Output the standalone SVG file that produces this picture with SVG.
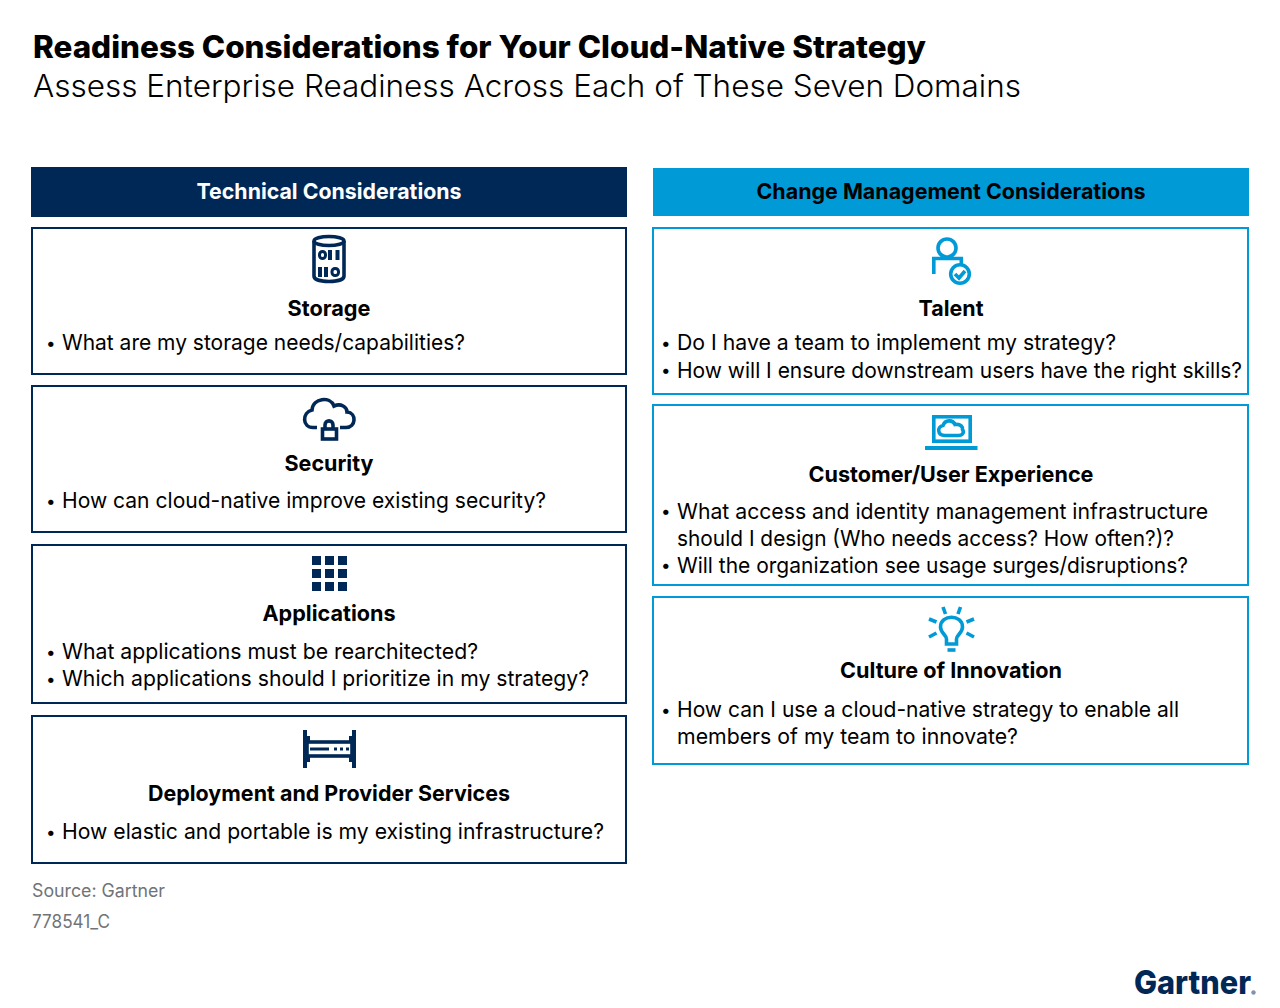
<svg xmlns="http://www.w3.org/2000/svg" width="1280" height="1008" viewBox="0 0 1280 1008">
<style>
text{font-family:"Inter","Liberation Sans",sans-serif;fill:#000}
.b{font-weight:700;font-size:22px;text-anchor:middle}
.t{font-size:22px;font-weight:400}
.d{font-size:17px;font-weight:400}
.nbox{fill:#fff;stroke:#002856;stroke-width:2}
.cbox{fill:#fff;stroke:#009ad7;stroke-width:2}
.ni{fill:none;stroke:#002856;stroke-width:3.6}
.ci{fill:none;stroke:#009ad7;stroke-width:3.6}
.nf{fill:#002856}
.cf{fill:#009ad7}
.g{font-size:18px;fill:#6f7478}
</style>
<rect width="1280" height="1008" fill="#fff"/>
<g id="title">
<text x="33" y="58" font-size="31" font-weight="800" textLength="893" lengthAdjust="spacingAndGlyphs">Readiness Considerations for Your Cloud-Native Strategy</text>
<text x="33" y="97" font-size="31" font-weight="300" textLength="988" lengthAdjust="spacingAndGlyphs">Assess Enterprise Readiness Across Each of These Seven Domains</text>
</g>
<g id="header-technical">
<rect x="31" y="167" width="596" height="50" fill="#002856"/>
<text x="329" y="199" class="b" style="fill:#fff" textLength="265" lengthAdjust="spacingAndGlyphs">Technical Considerations</text>
</g>
<g id="header-change">
<rect x="653" y="168" width="596" height="48" fill="#009ad7"/>
<text x="951" y="199" class="b" textLength="389" lengthAdjust="spacingAndGlyphs">Change Management Considerations</text>
</g>
<g id="storage">
<rect class="nbox" x="32" y="228" width="594" height="146"/>
<path class="ni" d="M314 241v35c0 3.500 6 5.500 15 5.500s15-2 15-5.500v-35"/>
<ellipse class="ni" cx="329" cy="241" rx="15" ry="4.500"/>
<path class="nf" d="M328 250h4v10h-4zM335.500 250h4v10h-4zM318 267h4v10h-4zM324 267h4v10h-4z"/>
<rect x="319.500" y="251.500" width="6" height="7" rx="3" fill="none" stroke="#002856" stroke-width="3"/>
<rect x="332" y="268.500" width="6.500" height="7" rx="3" fill="none" stroke="#002856" stroke-width="3"/>
<text x="329" y="316" class="b" textLength="83" lengthAdjust="spacingAndGlyphs">Storage</text>
<text x="46" y="349" class="d">•</text>
<text x="62" y="350" class="t" textLength="403" lengthAdjust="spacingAndGlyphs">What are my storage needs/capabilities?</text>
</g>
<g id="security">
<rect class="nbox" x="32" y="386" width="594" height="146"/>
<path class="ni" d="M317 427.500h-4c-11 0-11-15-1-17.500 1-12 18-14 22-4 7-3 13 1 13 6 10 1 9 15.500-1 15.500h-6"/>
<path class="ni" stroke-width="3" d="M325 429v-4c0-5.500 8-5.500 8 0v4"/>
<rect class="ni" x="322.500" y="429" width="14" height="10" stroke-width="3.200"/>
<text x="329" y="471" class="b" textLength="89" lengthAdjust="spacingAndGlyphs">Security</text>
<text x="46" y="507" class="d">•</text>
<text x="62" y="508" class="t" textLength="484" lengthAdjust="spacingAndGlyphs">How can cloud-native improve existing security?</text>
</g>
<g id="applications">
<rect class="nbox" x="32" y="545" width="594" height="158"/>
<path class="nf" d="M312 556h9v9h-9zM325 556h9v9h-9zM338 556h9v9h-9zM312 569h9v9h-9zM325 569h9v9h-9zM338 569h9v9h-9zM312 582h9v9h-9zM325 582h9v9h-9zM338 582h9v9h-9z"/>
<text x="329" y="621" class="b" textLength="133" lengthAdjust="spacingAndGlyphs">Applications</text>
<text x="46" y="658" class="d">•</text>
<text x="62" y="659" class="t" textLength="416" lengthAdjust="spacingAndGlyphs">What applications must be rearchitected?</text>
<text x="46" y="685" class="d">•</text>
<text x="62" y="686" class="t" textLength="527" lengthAdjust="spacingAndGlyphs">Which applications should I prioritize in my strategy?</text>
</g>
<g id="deployment">
<rect class="nbox" x="32" y="716" width="594" height="147"/>
<path class="nf" d="M303 730h4v38h-4zM352 730h4v38h-4zM307 736h3v5h-3zM349 736h3v5h-3zM307 757h3v5h-3zM349 757h3v5h-3z"/>
<rect class="ni" x="307" y="742" width="45" height="14" stroke-width="3"/>
<path class="nf" d="M310 747.500h19v3h-19zM334 747.500h3v3h-3zM340 747.500h3v3h-3zM346 747.500h3v3h-3z"/>
<text x="329" y="801" class="b" textLength="362" lengthAdjust="spacingAndGlyphs">Deployment and Provider Services</text>
<text x="46" y="838" class="d">•</text>
<text x="62" y="839" class="t" textLength="542" lengthAdjust="spacingAndGlyphs">How elastic and portable is my existing infrastructure?</text>
</g>
<g id="talent">
<rect class="cbox" x="653" y="228" width="595" height="166"/>
<circle class="ci" cx="947" cy="248" r="9"/>
<path class="ci" d="M933.800 274v-15.500h27.500v6"/>
<circle class="ci" cx="960" cy="274" r="9.300"/>
<path class="ci" stroke-width="3" d="M955 274l4 4 6-7"/>
<text x="951" y="316" class="b" textLength="65" lengthAdjust="spacingAndGlyphs">Talent</text>
<text x="661" y="349" class="d">•</text>
<text x="677" y="350" class="t" textLength="439" lengthAdjust="spacingAndGlyphs">Do I have a team to implement my strategy?</text>
<text x="661" y="376" class="d">•</text>
<text x="677" y="377.500" class="t" textLength="565" lengthAdjust="spacingAndGlyphs">How will I ensure downstream users have the right skills?</text>
</g>
<g id="customer">
<rect class="cbox" x="653" y="405" width="595" height="180"/>
<rect class="ci" x="933.800" y="416.800" width="36.400" height="24.400"/>
<path class="cf" d="M925 446h52.500v4h-52.500z"/>
<path class="ci" stroke-width="3" d="M945 435.500c-8 0-8-9-2-10 2-6 10-6 12-1 6-1 8 3 7.500 5 2 3 0 6-4 6z"/>
<text x="951" y="482" class="b" textLength="285" lengthAdjust="spacingAndGlyphs">Customer/User Experience</text>
<text x="661" y="517" class="d">•</text>
<text x="677" y="518.500" class="t" textLength="531" lengthAdjust="spacingAndGlyphs">What access and identity management infrastructure</text>
<text x="677" y="545.500" class="t" textLength="497" lengthAdjust="spacingAndGlyphs">should I design (Who needs access? How often?)?</text>
<text x="661" y="571" class="d">•</text>
<text x="677" y="572.500" class="t" textLength="511" lengthAdjust="spacingAndGlyphs">Will the organization see usage surges/disruptions?</text>
</g>
<g id="culture">
<rect class="cbox" x="653" y="597" width="595" height="167"/>
<path class="ci" d="M946.500 644v-5c0-4-6-6-6-12 0-13 22-13 22 0 0 6-6 8-6 12v5z"/>
<path class="ci" d="M947.500 650h8"/>
<path class="ci" stroke-width="4" d="M943 607l2.500 7M960.500 607l-2.500 7M929 619l7.500 3M974 619l-7.500 3M929 637l7.500-4M974 637l-7.500-4"/>
<text x="951" y="678" class="b" textLength="222" lengthAdjust="spacingAndGlyphs">Culture of Innovation</text>
<text x="661" y="716" class="d">•</text>
<text x="677" y="717" class="t" textLength="502" lengthAdjust="spacingAndGlyphs">How can I use a cloud-native strategy to enable all</text>
<text x="677" y="744" class="t" textLength="341" lengthAdjust="spacingAndGlyphs">members of my team to innovate?</text>
</g>
<g id="source">
<text x="32" y="897" class="g" textLength="133" lengthAdjust="spacingAndGlyphs">Source: Gartner</text>
<text x="32" y="928" class="g" textLength="78" lengthAdjust="spacingAndGlyphs">778541_C</text>
</g>
<g id="logo">
<text x="1134" y="994" font-size="33" font-weight="800" style="fill:#002856" textLength="117" lengthAdjust="spacingAndGlyphs">Gartner</text>
<circle cx="1253.500" cy="992.500" r="2.200" fill="#7f93ad"/>
</g>
<g id="connectors"/>
</svg>
